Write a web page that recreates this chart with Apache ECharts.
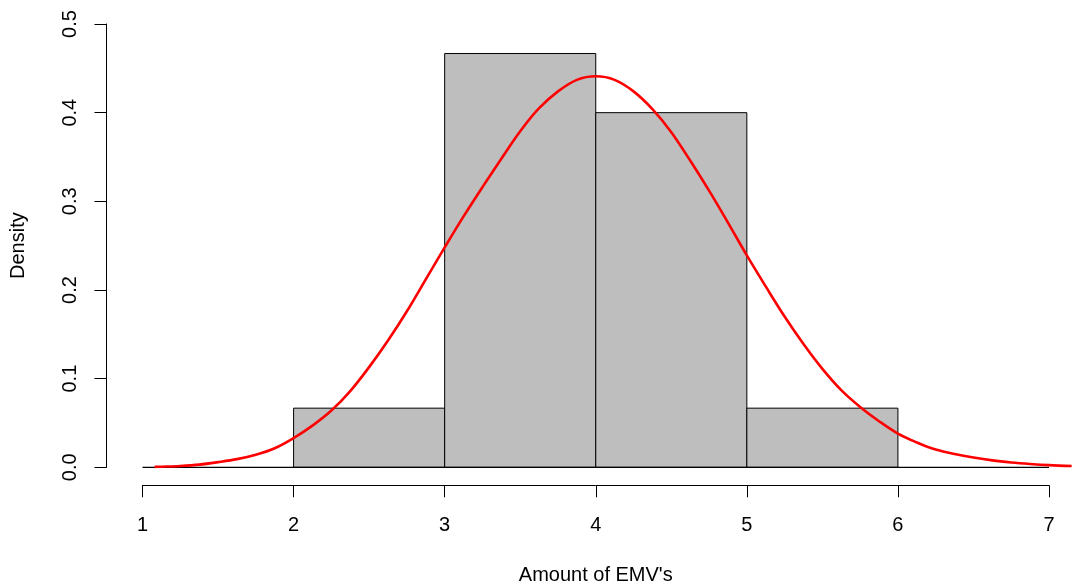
<!DOCTYPE html>
<html>
<head>
<meta charset="utf-8">
<script src="https://cdn.jsdelivr.net/npm/echarts@6/dist/echarts.min.js"></script>
<style>
  html, body { margin: 0; padding: 0; background: #fff; }
  #chart { width: 1072px; height: 586px; }
</style>
</head>
<body>
<div id="chart"></div>
<script>
// ---- data ----
var binStarts = [2, 3, 4, 5];
var binEnds = [3, 4, 5, 6];
var binDensity = [0.0667, 0.4667, 0.4, 0.0667];

var curveX = [1.08, 1.125, 1.25, 1.375, 1.5, 1.625, 1.75, 1.875, 2.0, 2.125, 2.25, 2.375, 2.5, 2.625, 2.75, 2.875,
              3.0, 3.125, 3.25, 3.375, 3.5, 3.625, 3.75, 3.875, 4.0, 4.125, 4.25, 4.375, 4.5, 4.625, 4.75, 4.875,
              5.0, 5.125, 5.25, 5.375, 5.5, 5.625, 5.75, 5.875, 6.0, 6.125, 6.25, 6.375, 6.5, 6.625, 6.75, 6.875,
              7.0, 7.15];
var curveY = [0.0005, 0.0007, 0.0015, 0.003, 0.0058, 0.0092, 0.0142, 0.0215, 0.033, 0.047, 0.064, 0.086, 0.113, 0.143, 0.176, 0.212,
              0.248, 0.283, 0.316, 0.348, 0.379, 0.405, 0.424, 0.437, 0.441, 0.437, 0.424, 0.404, 0.378, 0.346, 0.312, 0.276,
              0.239, 0.204, 0.170, 0.139, 0.111, 0.087, 0.068, 0.052, 0.038, 0.028, 0.020, 0.015, 0.011, 0.0078, 0.0055, 0.0038,
              0.0025, 0.0015];

var baselineX = [1, 7];
var baselineY = [0, 0];

var xTicks = [1, 2, 3, 4, 5, 6, 7];
var yTicks = ['0.0', '0.1', '0.2', '0.3', '0.4', '0.5'];

var xTitle = "Amount of EMV's";
var yTitle = 'Density';

// ---- build ----
var FONT = '"Liberation Sans", Arial, Helvetica, sans-serif';
var chart = echarts.init(document.getElementById('chart'), null, { renderer: 'canvas' });

var histData = binStarts.map(function (s, i) { return [s, binEnds[i], binDensity[i]]; });
var curveData = curveX.map(function (x, i) { return [x, curveY[i]]; });
var baseData = baselineX.map(function (x, i) { return [x, baselineY[i]]; });

var W = 1072, LEFT = 142.5, RIGHT = 23;
var xMin = xTicks[0], xMax = xTicks[xTicks.length - 1];
// plot-region grid reaches the right edge so the curve runs on past the last tick
var pxPerUnit = (W - LEFT - RIGHT) / (xMax - xMin);
var xPlotMax = xMax + RIGHT / pxPerUnit;

var option = {
  animation: false,
  backgroundColor: '#ffffff',
  grid: [
    { left: LEFT, right: 0, top: 24, bottom: 118.7, containLabel: false, outerBoundsMode: 'none' },
    { left: LEFT, right: RIGHT, top: 24, bottom: 118.7, containLabel: false, outerBoundsMode: 'none' }
  ],
  xAxis: [
    { gridIndex: 0, type: 'value', min: xMin, max: xPlotMax, show: false },
    {
      gridIndex: 1, type: 'value', min: xMin, max: xMax, interval: 1,
      position: 'bottom', offset: 18,
      axisLine: { show: true, onZero: false, lineStyle: { color: '#000', width: 1 } },
      axisTick: { show: true, length: 12, lineStyle: { color: '#000', width: 1 } },
      axisLabel: { margin: 30, color: '#000', fontFamily: FONT, fontSize: 20,
        formatter: function (v) { return String(v); } },
      splitLine: { show: false },
      name: xTitle, nameLocation: 'middle', nameGap: 80,
      nameTextStyle: { color: '#000', fontFamily: FONT, fontSize: 20 }
    }
  ],
  yAxis: [
    {
      gridIndex: 0, type: 'value', min: 0, max: 0.5, interval: 0.1,
      position: 'left', offset: 36,
      axisLine: { show: true, onZero: false, lineStyle: { color: '#000', width: 1 } },
      axisTick: { show: true, length: 12, lineStyle: { color: '#000', width: 1 } },
      axisLabel: { margin: 26, rotate: 90, color: '#000', fontFamily: FONT, fontSize: 20,
        formatter: function (v) { return yTicks[Math.round(v * 10)]; } },
      splitLine: { show: false },
      name: yTitle, nameLocation: 'middle', nameGap: 78, nameRotate: 90,
      nameTextStyle: { color: '#000', fontFamily: FONT, fontSize: 20 }
    },
    { gridIndex: 1, type: 'value', min: 0, max: 0.5, show: false }
  ],
  series: [
    {
      type: 'custom',
      xAxisIndex: 0, yAxisIndex: 0,
      data: histData,
      z: 2,
      renderItem: function (params, api) {
        var p0 = api.coord([api.value(0), 0]);
        var p1 = api.coord([api.value(1), api.value(2)]);
        return {
          type: 'rect',
          shape: { x: p0[0], y: p1[1], width: p1[0] - p0[0], height: p0[1] - p1[1] },
          style: { fill: '#bebebe', stroke: '#000', lineWidth: 1 }
        };
      }
    },
    {
      type: 'line',
      xAxisIndex: 0, yAxisIndex: 0,
      data: baseData,
      z: 3,
      symbol: 'none',
      lineStyle: { color: '#000', width: 1.2 },
      silent: true
    },
    {
      type: 'line',
      xAxisIndex: 0, yAxisIndex: 0,
      data: curveData,
      z: 4,
      smooth: 0.35,
      symbol: 'none',
      lineStyle: { color: '#ff0000', width: 2.6 },
      silent: true
    }
  ]
};
chart.setOption(option);
</script>
</body>
</html>
